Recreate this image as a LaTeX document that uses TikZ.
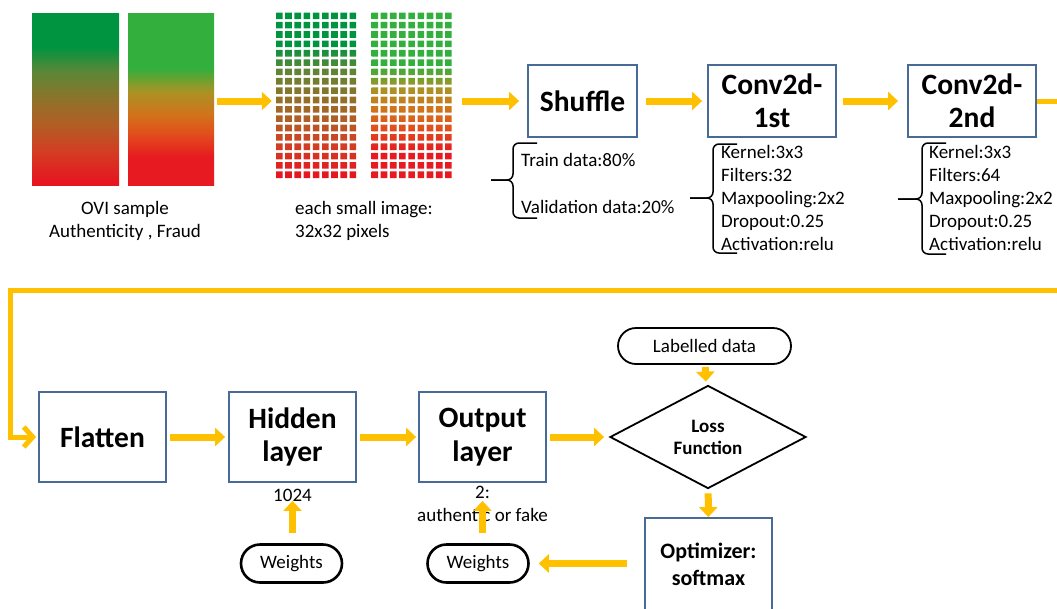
\documentclass[tikz,border=0pt]{standalone}
\usepackage{fontspec}
\setmainfont{Carlito}
\usetikzlibrary{arrows.meta,shapes.geometric,shapes.misc}

\definecolor{flowyellow}{RGB}{255,192,0}
\definecolor{boxblue}{RGB}{72,106,150}

% Farben der Beispielbilder
\definecolor{genRed}{RGB}{230,22,32}
\definecolor{genOrange}{RGB}{210,62,35}
\definecolor{genRust}{RGB}{180,92,36}
\definecolor{genBrown}{RGB}{142,115,42}
\definecolor{genOlive}{RGB}{92,135,55}
\definecolor{genGreen}{RGB}{0,148,64}

\definecolor{fraRed}{RGB}{230,26,32}
\definecolor{fraOrange}{RGB}{225,78,28}
\definecolor{fraAmber}{RGB}{212,112,26}
\definecolor{fraOchre}{RGB}{172,146,36}
\definecolor{fraGreen}{RGB}{50,175,60}

\pgfdeclareverticalshading{ovigenuine}{100bp}{%
  color(0bp)=(genRed); color(26bp)=(genRed); color(35bp)=(genOrange);
  color(42bp)=(genRust); color(50bp)=(genBrown); color(58bp)=(genOlive);
  color(65bp)=(genGreen); color(100bp)=(genGreen)}

\pgfdeclareverticalshading{ovifraud}{100bp}{%
  color(0bp)=(fraRed); color(33bp)=(fraRed); color(40bp)=(fraOrange);
  color(45bp)=(fraAmber); color(52bp)=(fraOchre); color(59bp)=(fraGreen);
  color(100bp)=(fraGreen)}

\begin{document}
\begin{tikzpicture}[
    x=1pt, y=-1pt,
    every node/.style={font=\fontsize{19}{23}\selectfont},
    layerbox/.style={
        draw=boxblue, line width=1.8pt, fill=white,
        align=center, inner sep=0pt,
        font=\fontsize{29.5}{33}\selectfont\bfseries},
    lowbox/.style={
        minimum width=127pt, minimum height=90pt,
        font=\fontsize{29.5}{33.5}\selectfont\bfseries},
    paramtext/.style={anchor=north west, align=left, inner sep=0pt},
    pill/.style={
        rounded rectangle, draw=black, line width=2.6pt,
        fill=white, inner sep=0pt},
    lossdia/.style={
        diamond, draw=black, line width=1.8pt, fill=white,
        inner sep=0pt, align=center,
        minimum width=196pt, minimum height=100pt,
        font=\fontsize{19}{22}\selectfont\bfseries},
    flowarrow/.style={
        draw=flowyellow, line width=7pt,
        -{Triangle[length=10pt,width=18pt]}},
    loopline/.style={
        draw=flowyellow, line width=5pt,
        -{Straight Barb[length=9pt,width=20pt]}},
    bracket/.style={draw=black, line width=1.5pt, rounded corners=6pt}
]

\useasboundingbox (0,0) rectangle (1057,608);
\clip (0,0) rectangle (1057,608);

% ============================================================
% OVI-Beispielbilder
% ============================================================

\shade[shading=ovigenuine] (32,13) rectangle (119,185);
\shade[shading=ovifraud] (128,13) rectangle (214,185);

\node[inner sep=0pt, minimum width=182pt, minimum height=172pt]
    (ovi) at (123,101) {};

\node[align=center] (ovitext) at (125,221)
    {OVI sample\\Authenticity , Fraud};

% ============================================================
% Kleine Bilder, 9 x 18 Pixel
% ============================================================

\shade[shading=ovigenuine]
    \foreach \c in {0,...,8} {
        \foreach \r in {0,...,17} {
            (276+\c*9.2,12.5+\r*9.35) rectangle ++(6.6,6.6)
        }
    };

\shade[shading=ovifraud]
    \foreach \c in {0,...,8} {
        \foreach \r in {0,...,17} {
            (371.5+\c*9.2,12.5+\r*9.35) rectangle ++(6.6,6.6)
        }
    };

\node[inner sep=0pt, minimum width=179pt, minimum height=168pt]
    (pix) at (365.5,101) {};

\node[align=left, anchor=west, inner sep=0pt] (pixtext) at (295,221)
    {each small image:\\32x32 pixels};

% ============================================================
% Obere Reihe
% ============================================================

\node[layerbox, minimum width=109pt, minimum height=72pt]
    (shuffle) at (582.5,101) {Shuffle};

\node[layerbox, minimum width=128pt, minimum height=72pt]
    (conv1) at (772,101) {Conv2d-\\1st};

\node[layerbox, minimum width=128pt, minimum height=72pt]
    (conv2) at (972,101) {Conv2d-\\2nd};

% Aufteilung der Daten
\draw[bracket] (537,143) -- (513,143) -- (513,180) -- (491,180);
\draw[bracket] (491,180) -- (513,180) -- (513,218) -- (537,218);

\node[anchor=west, inner sep=0pt] (train) at (521,160) {Train data:80\%};
\node[anchor=west, inner sep=0pt] (valid) at (521,207) {Validation data:20\%};

% Parameter der Faltungsschichten
\draw[bracket] (737,144) -- (713,144) -- (713,198) -- (690,198);
\draw[bracket] (690,198) -- (713,198) -- (713,253) -- (737,253);

\node[paramtext] (conv1par) at (721,145)
    {Kernel:3x3\\Filters:32\\Maxpooling:2x2\\Dropout:0.25\\Activation:relu};

\draw[bracket] (946,143) -- (922,143) -- (922,199) -- (898,199);
\draw[bracket] (898,199) -- (922,199) -- (922,254) -- (946,254);

\node[paramtext] (conv2par) at (929,145)
    {Kernel:3x3\\Filters:64\\Maxpooling:2x2\\Dropout:0.25\\Activation:relu};

% ============================================================
% Untere Reihe
% ============================================================

\node[layerbox, lowbox] (flatten) at (102.5,437) {Flatten};

\node[layerbox, lowbox] (hidden) at (292.5,437) {Hidden\\layer};

\node[layerbox, lowbox] (output) at (482.5,437) {Output\\layer};

\node[lossdia] (loss) at (708,437) {Loss\\Function};

\node[pill, line width=1.8pt, minimum width=173pt, minimum height=36pt]
    (labelled) at (704.5,346) {Labelled data};

\node[layerbox, minimum width=127pt, minimum height=92pt,
      font=\fontsize{22}{27}\selectfont\bfseries]
    (opt) at (708.5,564) {Optimizer:\\softmax};

\node[pill, minimum width=101pt, minimum height=38pt]
    (whid) at (291.5,563.5) {Weights};

\node[pill, minimum width=101pt, minimum height=38pt]
    (wout) at (478,563.5) {Weights};

\node (hidnum) at (292.5,495) {1024};

\node[align=center] (outlab) at (482.5,504) {2:\\authentic or fake};

% ============================================================
% Pfeile
% ============================================================

\draw[flowarrow, shorten <=3pt, shorten >=4pt] (ovi) -- (pix);
\draw[flowarrow, shorten <=7pt, shorten >=8pt] (pix) -- (shuffle);
\draw[flowarrow, shorten <=8pt, shorten >=5pt] (shuffle) -- (conv1);
\draw[flowarrow, shorten <=6pt, shorten >=9pt] (conv1) -- (conv2);

% Rueckfuehrung in die untere Reihe
\draw[loopline, shorten >=2pt]
    (conv2.east) -- (1080,101) -- (1080,290) -- (10,290) |- (flatten.west);

\draw[flowarrow, shorten <=3pt, shorten >=3pt] (flatten) -- (hidden);
\draw[flowarrow, shorten <=3pt, shorten >=2pt] (hidden) -- (output);
\draw[flowarrow, shorten <=3pt, shorten >=5pt] (output) -- (loss);

\draw[flowarrow, shorten <=2pt, shorten >=4pt] (labelled) -- (loss);
\draw[flowarrow, shorten <=4pt] (loss) -- (opt);

\draw[flowarrow, shorten <=17pt, shorten >=9pt] (opt.west |- wout) -- (wout.east);

\draw[flowarrow, shorten <=10pt, shorten >=18pt]
    (whid.north -| hidden.south) -- (hidden.south);
\draw[flowarrow, shorten <=10pt, shorten >=18pt]
    (wout.north -| output.south) -- (output.south);

\end{tikzpicture}
\end{document}
